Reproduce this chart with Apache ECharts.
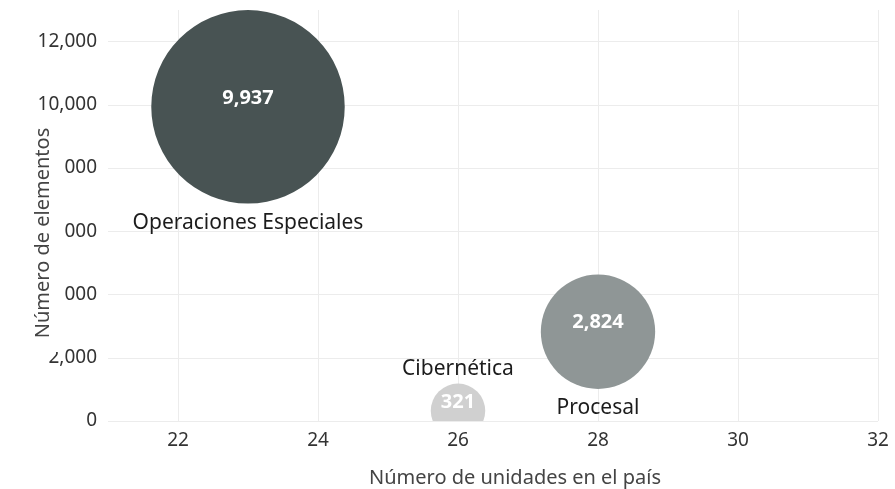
<!DOCTYPE html>
<html>
<head>
<meta charset="utf-8">
<script src="https://cdn.jsdelivr.net/npm/echarts@6/dist/echarts.min.js"></script>
<style>
  html, body { margin: 0; padding: 0; background: #fff; }
  #chart { width: 895px; height: 489px; }
</style>
</head>
<body>
<div id="chart"></div>
<script>
// datos
var categorias = ['Operaciones Especiales', 'Procesal', 'Cibernética'];
var unidades = [23, 28, 26];
var elementos = [9937, 2824, 321];
var colores = ['#414c4c', '#8a9292', '#cecece'];

var yMin = 0, yMax = 13000, yPaso = 2000;
var xMin = 21, xMax = 32;

var fuente = '"Noto Sans", "Open Sans", sans-serif';

// diámetro de la burbuja según el número de elementos
function diametro(v) {
  return 24 + 1.7 * Math.sqrt(v);
}

var datos = categorias.map(function (c, i) {
  return { name: c, value: [unidades[i], elementos[i]] };
});

var myChart = echarts.init(document.getElementById('chart'));

var option = {
  animation: false,
  grid: { left: 108, right: 17, top: 10, bottom: 68, outerBoundsMode: 'none' },
  // el título del eje Y tapa parte de las etiquetas, como en el original
  graphic: [
    {
      type: 'rect',
      z: 100,
      shape: { x: 30, y: 115, width: 34, height: 237 },
      style: { fill: '#fff' }
    },
    {
      type: 'text',
      z: 101,
      x: 43,
      y: 233,
      rotation: Math.PI / 2,
      style: {
        text: 'Número de elementos',
        fill: '#444',
        fontFamily: fuente,
        fontSize: 20,
        align: 'center',
        verticalAlign: 'middle'
      }
    }
  ],
  xAxis: {
    type: 'value',
    min: xMin,
    max: xMax,
    splitNumber: 6,
    name: 'Número de unidades en el país',
    nameLocation: 'middle',
    nameGap: 47,
    nameTextStyle: {
      fontFamily: fuente,
      fontSize: 20,
      color: '#444',
      padding: [0, 0, 0, 44]
    },
    axisLine: { show: false },
    axisTick: { show: false },
    axisLabel: {
      showMinLabel: false,
      margin: 10,
      fontFamily: fuente,
      fontSize: 19,
      color: '#333'
    },
    splitLine: { showMinLine: false, lineStyle: { color: '#ececec', width: 1 } }
  },
  yAxis: {
    type: 'value',
    min: yMin,
    max: yMax,
    interval: yPaso,
    axisLine: { show: false },
    axisTick: { show: false },
    axisLabel: {
      showMaxLabel: false,
      margin: 11,
      fontFamily: fuente,
      fontSize: 19,
      color: '#333',
      formatter: function (v) { return v.toLocaleString('en-US'); }
    },
    splitLine: { showMaxLine: false, lineStyle: { color: '#ececec', width: 1 } }
  },
  series: [
    {
      type: 'custom',
      clip: true,
      data: datos,
      renderItem: function (params, api) {
        var i = params.dataIndex;
        var v = api.value(1);
        var c = api.coord([api.value(0), v]);
        var r = diametro(v) / 2;
        var fondo = params.coordSys.y + params.coordSys.height;
        // la etiqueta va abajo salvo que no quepa
        var abajo = c[1] + r + 30 < fondo;
        var yNombre = abajo ? c[1] + r + 19 : c[1] - r - 15;
        return {
          type: 'group',
          children: [
            {
              type: 'circle',
              shape: { cx: c[0], cy: c[1], r: r },
              style: { fill: colores[i], opacity: 0.96 }
            },
            {
              type: 'text',
              x: c[0],
              y: c[1] - 9,
              style: {
                text: v.toLocaleString('en-US'),
                fill: '#fff',
                fontFamily: fuente,
                fontWeight: 'bold',
                fontSize: 20,
                align: 'center',
                verticalAlign: 'middle'
              }
            },
            {
              type: 'text',
              x: c[0],
              y: yNombre,
              style: {
                text: categorias[i],
                fill: '#1c1c1c',
                fontFamily: fuente,
                fontSize: 21,
                align: 'center',
                verticalAlign: 'middle'
              }
            }
          ]
        };
      }
    }
  ]
};

myChart.setOption(option);
</script>
</body>
</html>
